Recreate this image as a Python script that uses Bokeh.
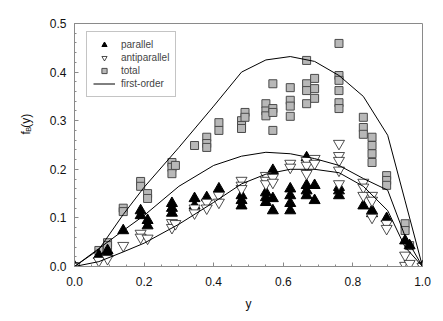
import math
from bokeh.plotting import figure
from bokeh.layouts import row
from bokeh.models import Legend, LegendItem, NumeralTickFormatter, Range1d, FixedTicker
from bokeh.core.properties import value
from bokeh.embed import file_html
from bokeh.resources import INLINE

# ---- data ----
x_par = [0.0, 0.07, 0.095, 0.095, 0.14, 0.19, 0.19, 0.21, 0.21, 0.28, 0.28, 0.28,
         0.345, 0.345, 0.38, 0.415, 0.48, 0.48, 0.48, 0.55, 0.55, 0.55, 0.57, 0.57, 0.57,
         0.62, 0.62, 0.62, 0.62, 0.667, 0.667, 0.667, 0.667, 0.69, 0.69,
         0.76, 0.76, 0.76, 0.83, 0.855, 0.855, 0.897, 0.95, 0.963, 1.0]
y_par = [0.0, 0.023, 0.033, 0.027, 0.074, 0.115, 0.105, 0.095, 0.084, 0.13, 0.12, 0.11,
         0.14, 0.125, 0.142, 0.16, 0.146, 0.136, 0.125, 0.152, 0.142, 0.132, 0.198, 0.14, 0.115,
         0.16, 0.146, 0.13, 0.115, 0.224, 0.167, 0.156, 0.146, 0.167, 0.136,
         0.163, 0.156, 0.146, 0.125, 0.115, 0.109, 0.099, 0.053, 0.043, 0.0]

x_anti = [0.0, 0.07, 0.095, 0.14, 0.19, 0.19, 0.21, 0.28, 0.28, 0.29, 0.345, 0.345,
          0.38, 0.38, 0.415, 0.415, 0.48, 0.48, 0.48, 0.55, 0.55, 0.55, 0.57, 0.57,
          0.62, 0.62, 0.667, 0.667, 0.667, 0.69, 0.69, 0.76, 0.76, 0.76, 0.76, 0.76,
          0.83, 0.83, 0.83, 0.855, 0.855, 0.855, 0.897, 0.897, 0.95, 0.95, 0.963, 1.0]
y_anti = [0.0, 0.012, 0.016, 0.043, 0.068, 0.06, 0.058, 0.09, 0.08, 0.088, 0.12, 0.11,
          0.132, 0.12, 0.146, 0.132, 0.177, 0.167, 0.16, 0.187, 0.177, 0.17, 0.183, 0.173,
          0.212, 0.204, 0.218, 0.208, 0.191, 0.222, 0.212, 0.253, 0.228, 0.218, 0.198, 0.17,
          0.173, 0.163, 0.146, 0.146, 0.136, 0.101, 0.088, 0.078, 0.023, 0.002, 0.006, 0.0]

x_tot = [0.0, 0.07, 0.095, 0.095, 0.14, 0.14, 0.19, 0.19, 0.21, 0.21, 0.28, 0.28, 0.28, 0.29,
         0.345, 0.38, 0.38, 0.38, 0.415, 0.415, 0.48, 0.48, 0.48, 0.49, 0.49,
         0.55, 0.55, 0.55, 0.57, 0.57, 0.57, 0.57, 0.62, 0.62, 0.62, 0.62,
         0.667, 0.667, 0.667, 0.667, 0.69, 0.69, 0.69,
         0.76, 0.76, 0.76, 0.76, 0.76, 0.76, 0.83, 0.83, 0.83,
         0.855, 0.855, 0.855, 0.855, 0.897, 0.897, 0.897, 0.95, 0.95, 0.963, 1.0]
y_tot = [0.0, 0.033, 0.049, 0.043, 0.12, 0.113, 0.175, 0.165, 0.15, 0.14, 0.214, 0.204, 0.191, 0.208,
         0.249, 0.266, 0.253, 0.245, 0.296, 0.28, 0.30, 0.29, 0.284, 0.317, 0.307,
         0.335, 0.32, 0.31, 0.376, 0.325, 0.317, 0.28, 0.368, 0.342, 0.33, 0.309,
         0.424, 0.376, 0.362, 0.335, 0.387, 0.366, 0.346,
         0.459, 0.393, 0.383, 0.362, 0.337, 0.325, 0.307, 0.286, 0.272,
         0.266, 0.249, 0.232, 0.214, 0.187, 0.177, 0.167, 0.088, 0.074, 0.043, 0.0]

x_fo = [0.0, 0.07, 0.14, 0.2, 0.3, 0.4, 0.48, 0.55, 0.62, 0.69, 0.76, 0.83, 0.9, 0.95, 1.0]
y_fo_total = [0.0, 0.035, 0.107, 0.163, 0.245, 0.33, 0.40, 0.425, 0.432, 0.422, 0.393, 0.35, 0.27, 0.135, 0.0]
y_fo_par = [0.0, 0.037, 0.074, 0.105, 0.165, 0.208, 0.227, 0.235, 0.232, 0.222, 0.208, 0.181, 0.157, 0.062, 0.0]
y_fo_anti = [0.0, 0.01, 0.03, 0.048, 0.087, 0.132, 0.17, 0.19, 0.2, 0.2, 0.193, 0.165, 0.115, 0.04, 0.0]

x_ticks = [0.0, 0.2, 0.4, 0.6, 0.8, 1.0]
x_minor = [i * 0.05 for i in range(21)]
y_ticks = [0.0, 0.1, 0.2, 0.3, 0.4, 0.5]
y_minor = [i * 0.02 for i in range(26)]

ylabel_parts = ["f", "B", "(y)"]

FONT = "Liberation Sans"
AX = "#8a8a8a"
TXT = "#111111"
W, H = 435, 313
LW = 40  # width of the strip holding the rotated y label

p = figure(width=W - LW, height=H, output_backend="svg", toolbar_location=None,
           x_range=Range1d(0, 1), y_range=Range1d(0, 0.5),
           min_border_left=74 - LW, min_border_right=13, min_border_top=23, min_border_bottom=47)
p.grid.visible = False
p.outline_line_color = AX
p.outline_line_width = 1

for ax, tk, mn in ((p.xaxis[0], x_ticks, x_minor), (p.yaxis[0], y_ticks, y_minor)):
    ax.ticker = FixedTicker(ticks=tk, minor_ticks=mn)
    ax.formatter = NumeralTickFormatter(format="0.0")
    ax.axis_line_color = AX
    ax.major_tick_line_color = AX
    ax.minor_tick_line_color = AX
    ax.major_tick_in = 4
    ax.major_tick_out = 0
    ax.minor_tick_in = 2
    ax.minor_tick_out = 0
    ax.major_label_text_font = FONT
    ax.major_label_text_font_size = "12px"
    ax.major_label_text_color = TXT

p.xaxis.major_label_standoff = 10
p.yaxis.major_label_standoff = 8
p.xaxis.axis_label = "y"
p.xaxis.axis_label_text_font = FONT
p.xaxis.axis_label_text_font_size = "12px"
p.xaxis.axis_label_text_font_style = "normal"
p.xaxis.axis_label_standoff = 8
p.xaxis.axis_label_text_color = TXT

r_tot = p.scatter(x_tot, y_tot, marker="square", size=8, fill_color="#b8b8b8",
                  line_color="#4a4a4a", line_width=1)
r_par = p.scatter(x_par, y_par, marker="triangle", size=11, fill_color="black",
                  line_color="black", line_width=1)
r_anti = p.scatter(x_anti, y_anti, marker="inverted_triangle", size=11, fill_color="white",
                   line_color="#222222", line_width=0.8)
r_fo = p.line(x_fo, y_fo_total, line_color="black", line_width=1)
p.line(x_fo, y_fo_par, line_color="black", line_width=1)
p.line(x_fo, y_fo_anti, line_color="black", line_width=1)

legend = Legend(items=[LegendItem(label="parallel", renderers=[r_par]),
                       LegendItem(label="antiparallel", renderers=[r_anti]),
                       LegendItem(label="total", renderers=[r_tot]),
                       LegendItem(label="first-order", renderers=[r_fo])],
                location=(12, 169))
legend.border_line_color = AX
legend.border_line_width = 1
legend.background_fill_alpha = 1
legend.label_text_font = FONT
legend.label_text_font_size = "10px"
legend.padding = 6
legend.spacing = 0
legend.margin = 0
legend.label_height = 13
legend.glyph_height = 13
legend.glyph_width = 22
legend.label_standoff = 6
p.add_layout(legend)

# narrow strip with the rotated y-axis label f_B(y), in pixel coordinates
q = figure(width=LW, height=H, output_backend="svg", toolbar_location=None,
           x_range=Range1d(0, LW), y_range=Range1d(0, H),
           min_border_left=0, min_border_right=0, min_border_top=0, min_border_bottom=0)
q.axis.visible = False
q.grid.visible = False
q.outline_line_color = None
q.text(x=[25.3], y=[H - 143], text=[ylabel_parts[0]], angle=math.pi / 2,
       text_font=value(FONT), text_font_size="12px", text_align="left",
       text_baseline="alphabetic", text_color=TXT)
q.text(x=[28.0], y=[H - 139.6], text=[ylabel_parts[1]], angle=math.pi / 2,
       text_font=value(FONT), text_font_size="8px", text_align="left",
       text_baseline="alphabetic", text_color=TXT)
q.text(x=[25.3], y=[H - 134.2], text=[ylabel_parts[2]], angle=math.pi / 2,
       text_font=value(FONT), text_font_size="12px", text_align="left",
       text_baseline="alphabetic", text_color=TXT)

layout = row(q, p, spacing=0)
open("out.html", "w").write(file_html(layout, INLINE))
